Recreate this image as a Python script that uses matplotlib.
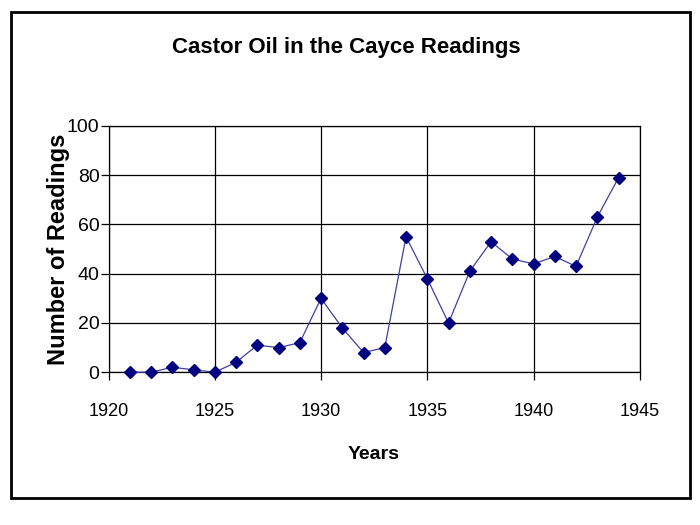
import matplotlib

matplotlib.use("Agg")
import matplotlib.pyplot as plt
from matplotlib.patches import Rectangle

years = [1921, 1922, 1923, 1924, 1925, 1926, 1927, 1928, 1929, 1930, 1931, 1932,
         1933, 1934, 1935, 1936, 1937, 1938, 1939, 1940, 1941, 1942, 1943, 1944]
readings = [0, 0, 2, 1, 0, 4, 11, 10, 12, 30, 18, 8,
            10, 55, 38, 20, 41, 53, 46, 44, 47, 43, 63, 79]
x_ticks = [1920, 1925, 1930, 1935, 1940, 1945]
y_ticks = [0, 20, 40, 60, 80, 100]

plt.rcParams["font.family"] = ["Liberation Sans", "DejaVu Sans"]

fig = plt.figure(figsize=(7, 5.25), dpi=100)
ax = fig.add_axes([0.155, 0.291, 0.759, 0.469])

ax.plot(years, readings, color="#4040a0", lw=0.9, marker="D", ms=6.5,
        mfc="#000080", mec="#000080", zorder=5, clip_on=False)

ax.set_xlim(1920, 1945)
ax.set_ylim(0, 100)
ax.set_xticks(x_ticks)
ax.set_yticks(y_ticks)
ax.grid(True, color="black", lw=0.9)
ax.set_axisbelow(True)
for side in ["left", "bottom", "right", "top"]:
    ax.spines[side].set_color("black")
    ax.spines[side].set_linewidth(0.9)
ax.tick_params(direction="out", length=6, width=0.9, labelsize=13)
ax.tick_params(axis="x", pad=16)
ax.tick_params(axis="y", pad=0.5, labelsize=14)

ax.set_xlabel("Years", fontsize=14, fontweight="bold")
ax.xaxis.set_label_coords(0.5, -0.30)
ax.set_ylabel("Number of Readings", fontsize=17, fontweight="bold")
ax.yaxis.set_label_coords(-0.073, 0.5)
fig.text(0.495, 0.91, "Castor Oil in the Cayce Readings", ha="center", va="center",
         fontsize=16, fontweight="bold")

fig.patches.append(Rectangle((0.016, 0.052), 0.969, 0.926, transform=fig.transFigure,
                             fill=False, edgecolor="black", lw=2))

fig.savefig("out.png", dpi=100)
